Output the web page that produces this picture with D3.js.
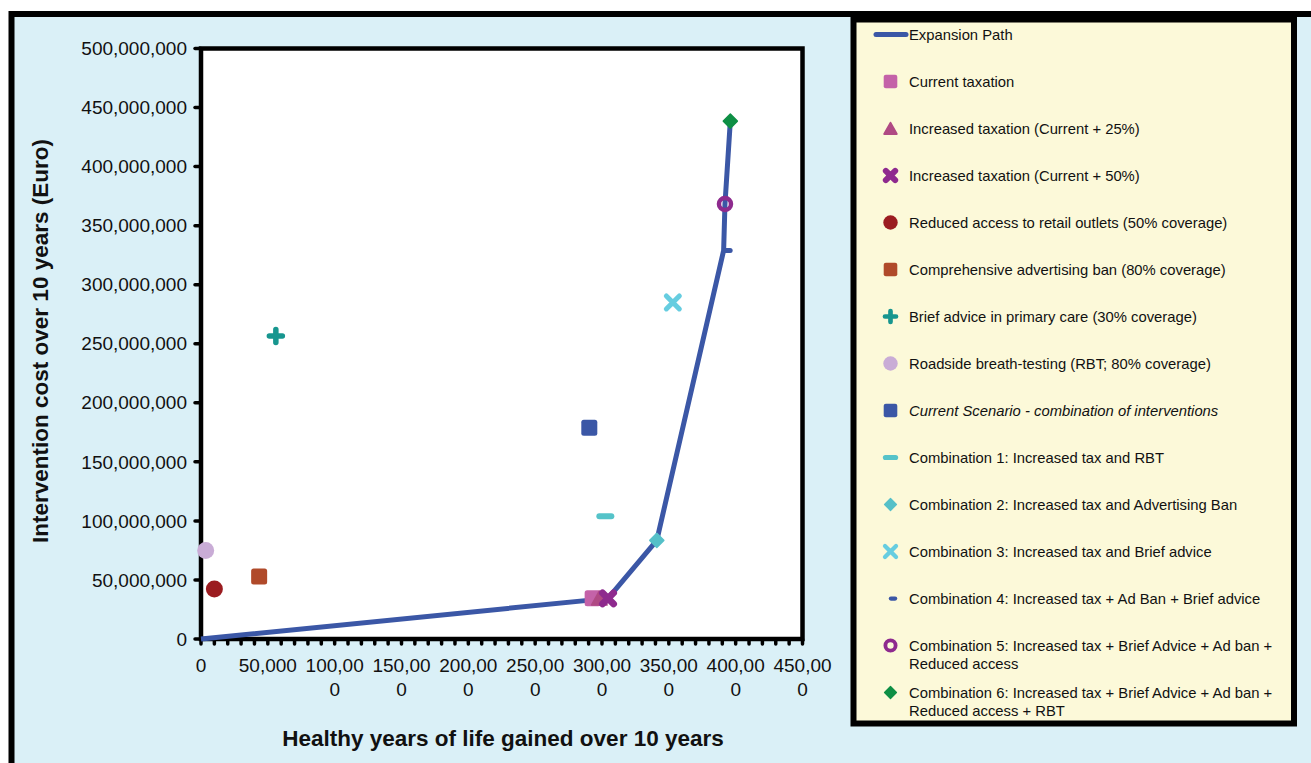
<!DOCTYPE html>
<html>
<head>
<meta charset="utf-8">
<script src="https://cdn.jsdelivr.net/npm/d3@7"></script>
<style>
  body { margin: 0; background: #fff; }
  text { font-family: "Liberation Sans", Arial, sans-serif; fill: #111; }
</style>
</head>
<body>
<div id="graphic"></div>
<script>
// series shown as single markers
var seriesNames = [
  "Current taxation",
  "Increased taxation (Current + 25%)",
  "Increased taxation (Current + 50%)",
  "Reduced access to retail outlets (50% coverage)",
  "Comprehensive advertising ban (80% coverage)",
  "Brief advice in primary care (30% coverage)",
  "Roadside breath-testing (RBT; 80% coverage)",
  "Current Scenario - combination of interventions",
  "Combination 1: Increased tax and RBT",
  "Combination 2: Increased tax and Advertising Ban",
  "Combination 3: Increased tax and Brief advice",
  "Combination 4: Increased tax + Ad Ban + Brief advice",
  "Combination 5: Increased tax + Brief Advice + Ad ban + Reduced access",
  "Combination 6: Increased tax + Brief Advice + Ad ban + Reduced access + RBT"
];
var seriesYears = [293000, 298000, 304500, 10000, 43500, 56000, 3500, 290500, 302500, 341000, 353000, 394000, 392000, 396000];
var seriesCost = [34.4e6, 34.4e6, 34.4e6, 42.3e6, 53e6, 256.6e6, 75e6, 178.8e6, 104e6, 83.5e6, 285e6, 329e6, 368.3e6, 438.5e6];
var seriesShape = ["square", "triangle", "bigx", "circle", "square", "plus", "circle", "square", "dash", "diamond", "times", "smalldash", "ring", "diamond"];
var seriesColor = ["#c462a8", "#b04a84", "#8e2a8e", "#9b1c20", "#b04a2a", "#17968f", "#c9acd6", "#3b57a6", "#55c3c9", "#55c0c8", "#66cde0", "#3b57a6", "#8e2a8e", "#0e8f45"];

// expansion path
var pathYears = [0, 304500, 341000, 391000, 392000, 396000];
var pathCost = [0, 34.4e6, 83.5e6, 329e6, 368.3e6, 438.5e6];

var yTicks = [0, 50e6, 100e6, 150e6, 200e6, 250e6, 300e6, 350e6, 400e6, 450e6, 500e6];
var xTicks = [0, 50000, 100000, 150000, 200000, 250000, 300000, 350000, 400000, 450000];
var xTickLabels = ["0", "50,000", "100,00|0", "150,00|0", "200,00|0", "250,00|0", "300,00|0", "350,00|0", "400,00|0", "450,00|0"];

var width = 1311, height = 763;
var plot = {left: 201, top: 48.5, right: 802.5, bottom: 639};

var svg = d3.select("#graphic").append("svg")
  .attr("width", width)
  .attr("height", height);

// outer frame
svg.append("rect")
  .attr("x", 11.5).attr("y", 14)
  .attr("width", 1320).attr("height", 780)
  .attr("fill", "#daf0f7")
  .attr("stroke", "#000")
  .attr("stroke-width", 6);

var x = d3.scaleLinear().domain([0, 450000]).range([plot.left, plot.right]);
var y = d3.scaleLinear().domain([0, 500e6]).range([plot.bottom, plot.top]);

svg.append("rect")
  .attr("x", plot.left).attr("y", plot.top)
  .attr("width", plot.right - plot.left).attr("height", plot.bottom - plot.top)
  .attr("fill", "#fff");

// minor ticks along x
var minor = d3.range(0, 450001, 10000);
svg.append("g").selectAll("line").data(minor).enter().append("line")
  .attr("x1", function(d) { return x(d); }).attr("x2", function(d) { return x(d); })
  .attr("y1", plot.bottom).attr("y2", plot.bottom + 5)
  .attr("stroke", "#000").attr("stroke-width", 3.5).attr("stroke-linecap", "round");

// y ticks
svg.append("g").selectAll("line").data(yTicks).enter().append("line")
  .attr("x1", plot.left - 6).attr("x2", plot.left)
  .attr("y1", function(d) { return y(d); }).attr("y2", function(d) { return y(d); })
  .attr("stroke", "#000").attr("stroke-width", 3.5).attr("stroke-linecap", "round");

var fmt = d3.format(",");
svg.append("g").selectAll("text").data(yTicks).enter().append("text")
  .attr("x", plot.left - 14)
  .attr("y", function(d) { return y(d); })
  .attr("dy", "0.35em")
  .attr("text-anchor", "end")
  .style("font-size", "19px")
  .text(function(d) { return fmt(d); });

var xl = svg.append("g").selectAll("text").data(xTicks).enter().append("text")
  .attr("text-anchor", "middle")
  .style("font-size", "19px")
  .attr("y", 672);
xl.each(function(d, i) {
  var parts = xTickLabels[i].split("|");
  var t = d3.select(this);
  parts.forEach(function(p, j) {
    t.append("tspan").attr("x", x(d)).attr("dy", j ? 24 : 0).text(p);
  });
});

// plot frame
svg.append("rect")
  .attr("x", plot.left).attr("y", plot.top)
  .attr("width", plot.right - plot.left).attr("height", plot.bottom - plot.top)
  .attr("fill", "none")
  .attr("stroke", "#000")
  .attr("stroke-width", 4.5);

// axis titles
svg.append("text")
  .attr("x", 503).attr("y", 746)
  .attr("text-anchor", "middle")
  .style("font-size", "22.5px").style("font-weight", "bold")
  .text("Healthy years of life gained over 10 years");

svg.append("text")
  .attr("transform", "translate(48,341) rotate(-90)")
  .attr("text-anchor", "middle")
  .style("font-size", "22.5px").style("font-weight", "bold")
  .text("Intervention cost over 10 years (Euro)");

var line = d3.line()
  .x(function(d) { return x(d[0]); })
  .y(function(d) { return y(d[1]); });

svg.append("path")
  .datum(d3.zip(pathYears, pathCost))
  .attr("d", line)
  .attr("fill", "none")
  .attr("stroke", "#3b57a6")
  .attr("stroke-width", 5)
  .attr("stroke-linejoin", "round");

function cross(g, color, a, w, diag) {
  var p = diag ? "M" + -a + "," + -a + "L" + a + "," + a + "M" + -a + "," + a + "L" + a + "," + -a
               : "M" + -a + ",0L" + a + ",0M0," + -a + "L0," + a;
  g.append("path").attr("d", p)
    .attr("fill", "none").attr("stroke", color).attr("stroke-width", w).attr("stroke-linecap", "round");
}

function marker(g, shape, color) {
  if (shape == "square") {
    g.append("rect").attr("x", -8).attr("y", -8).attr("width", 16).attr("height", 16)
      .attr("rx", 2.5).attr("fill", color);
  } else if (shape == "triangle") {
    g.append("path").attr("d", "M0,-7L7.5,6.5L-7.5,6.5Z")
      .attr("fill", color).attr("stroke", color).attr("stroke-width", 2).attr("stroke-linejoin", "round");
  } else if (shape == "bigx") {
    cross(g, color, 5.5, 7, true);
  } else if (shape == "times") {
    cross(g, color, 6.5, 5, true);
  } else if (shape == "plus") {
    cross(g, color, 6.5, 5.5, false);
  } else if (shape == "circle") {
    g.append("circle").attr("r", 8.5).attr("fill", color);
  } else if (shape == "dash") {
    g.append("rect").attr("x", -9).attr("y", -3).attr("width", 18).attr("height", 6)
      .attr("rx", 3).attr("fill", color);
  } else if (shape == "smalldash") {
    g.append("rect").attr("x", -5).attr("y", -2.5).attr("width", 10).attr("height", 5)
      .attr("rx", 2.5).attr("fill", color);
  } else if (shape == "diamond") {
    g.append("path").attr("d", "M0,-7L7,0L0,7L-7,0Z")
      .attr("fill", color).attr("stroke", color).attr("stroke-width", 1.5).attr("stroke-linejoin", "round");
  } else if (shape == "ring") {
    g.append("circle").attr("r", 6).attr("fill", "none").attr("stroke", color).attr("stroke-width", 4.5);
  }
}

seriesNames.forEach(function(name, i) {
  var g = svg.append("g")
    .attr("transform", "translate(" + x(seriesYears[i]) + "," + y(seriesCost[i]) + ")");
  marker(g, seriesShape[i], seriesColor[i]);
});

// legend
var lg = svg.append("g");
lg.append("rect")
  .attr("x", 853.5).attr("y", 19.5)
  .attr("width", 440.5).attr("height", 704)
  .attr("fill", "#fcf9d9")
  .attr("stroke", "#000")
  .attr("stroke-width", 6);

lg.append("line")
  .attr("x1", 876).attr("x2", 906).attr("y1", 34.5).attr("y2", 34.5)
  .attr("stroke", "#3b57a6").attr("stroke-width", 5).attr("stroke-linecap", "round");
lg.append("text").attr("x", 909).attr("y", 34.5).attr("dy", "0.35em")
  .style("font-size", "14.8px").text("Expansion Path");

var legendWrap = {12: ["Combination 5: Increased tax + Brief Advice + Ad ban +", "Reduced access"],
                  13: ["Combination 6: Increased tax + Brief Advice + Ad ban +", "Reduced access + RBT"]};

seriesNames.forEach(function(name, i) {
  var cy = 81.5 + i * 47;
  var g = lg.append("g").attr("transform", "translate(" + (seriesShape[i] == "smalldash" ? 893 : 890.5) + "," + cy + ")" + " scale(0.85)");
  marker(g, seriesShape[i], seriesColor[i]);
  var t = lg.append("text").attr("x", 909).attr("y", cy)
    .style("font-size", "14.8px");
  if (i == 7) t.style("font-style", "italic");
  var lines = legendWrap[i] || [name];
  lines.forEach(function(l, j) {
    t.append("tspan").attr("x", 909).attr("dy", j ? 18 : "0.35em").text(l);
  });
});
</script>
</body>
</html>
